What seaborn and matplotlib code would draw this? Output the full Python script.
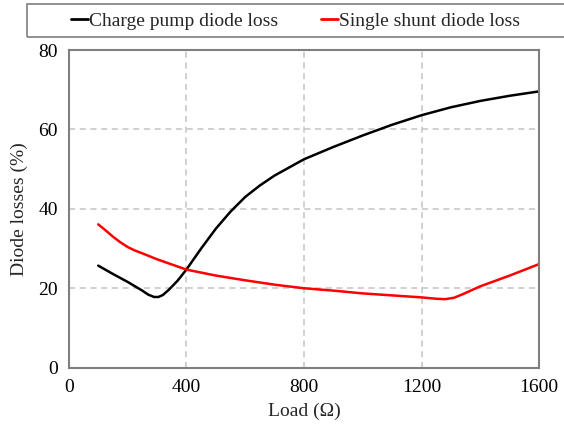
import matplotlib
matplotlib.use("Agg")
import matplotlib.pyplot as plt
import matplotlib.patches as mpatches
import seaborn as sns
import pandas as pd

load_cp = [100, 150, 200, 250, 270, 290, 305, 320, 340, 370, 400, 450, 500, 550, 600, 650, 700, 800, 900, 1000, 1100, 1200, 1300, 1400, 1500, 1600]
loss_cp = [25.7, 23.6, 21.6, 19.4, 18.4, 17.8, 17.8, 18.3, 19.6, 21.9, 24.7, 30.0, 35.0, 39.3, 43.0, 45.9, 48.4, 52.5, 55.6, 58.5, 61.2, 63.6, 65.6, 67.2, 68.5, 69.6]

load_ss = [100, 125, 150, 175, 200, 225, 250, 300, 350, 400, 500, 600, 700, 800, 900, 1000, 1100, 1200, 1250, 1280, 1310, 1340, 1400, 1500, 1600]
loss_ss = [36.1, 34.6, 33.0, 31.6, 30.4, 29.5, 28.8, 27.3, 26.0, 24.7, 23.2, 22.0, 20.9, 20.0, 19.4, 18.7, 18.2, 17.7, 17.35, 17.25, 17.6, 18.5, 20.5, 23.2, 26.1]

series_names = ["Charge pump diode loss", "Single shunt diode loss"]
x_ticks = [0, 400, 800, 1200, 1600]
y_ticks = [0, 20, 40, 60, 80]

df = pd.concat([
    pd.DataFrame({"Load": load_cp, "Loss": loss_cp, "Series": series_names[0]}),
    pd.DataFrame({"Load": load_ss, "Loss": loss_ss, "Series": series_names[1]}),
])

sns.set_style("white")
plt.rcParams["font.family"] = ["Liberation Serif", "DejaVu Serif"]

fig = plt.figure(figsize=(5.64, 4.32), dpi=100)
ax = fig.add_axes([0.122, 0.149, 0.834, 0.735])

sns.lineplot(data=df, x="Load", y="Loss", hue="Series", sort=False,
             palette={series_names[0]: "black", series_names[1]: "#ff0000"},
             linewidth=1.8, ax=ax, legend=False)

ax.set_xlim(0, 1600)
ax.set_ylim(0, 80)
ax.set_xticks(x_ticks)
ax.set_yticks(y_ticks)
ax.set_xticklabels([str(t) for t in x_ticks])
ax.set_yticklabels([str(t) for t in y_ticks])
ax.tick_params(axis="both", labelsize=14, length=0, pad=8, colors="black")
ax.grid(True, linestyle=(0, (4, 3)), color="#c4c4c4", linewidth=1.1)
for s in ax.spines.values():
    s.set_color("#7f7f7f")
    s.set_linewidth(1.5)
ax.set_xlabel("Load (Ω)", fontsize=14, labelpad=5)
ax.set_ylabel("Diode losses (%)", fontsize=14, labelpad=7)

frame = mpatches.Rectangle((0.048, 0.914), 1.0, 0.077, transform=fig.transFigure,
                           fill=False, edgecolor="#7f7f7f", linewidth=1.2, clip_on=False)
fig.patches.append(frame)

handles = [plt.Line2D([], [], color="black", linewidth=2),
           plt.Line2D([], [], color="#ff0000", linewidth=2)]
leg = fig.legend(handles, series_names, loc="center left",
                 bbox_to_anchor=(0.125, 0.952),
                 ncol=2, fontsize=14, handlelength=0.9, handletextpad=0.05,
                 frameon=False, borderaxespad=0, borderpad=0, columnspacing=2.2)

fig.savefig("out.png", dpi=100)
